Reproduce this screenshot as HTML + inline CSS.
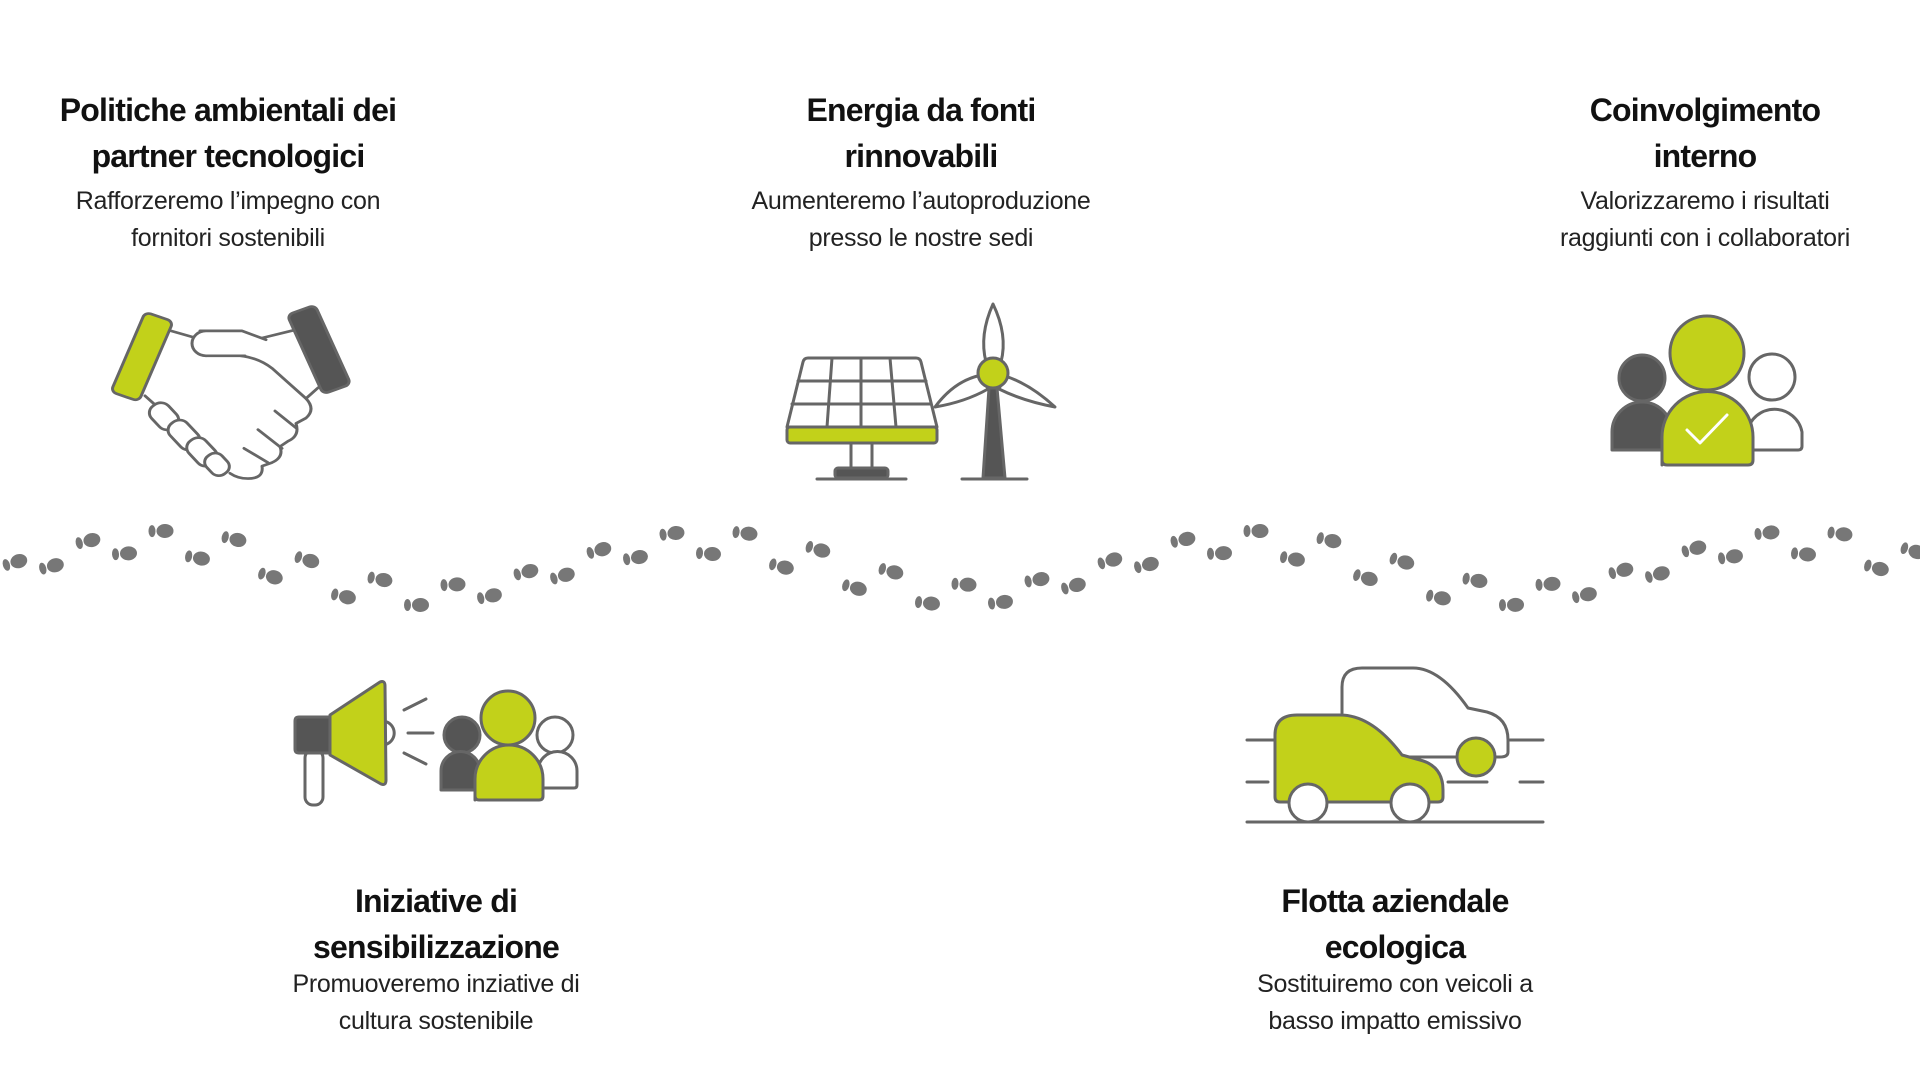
<!DOCTYPE html>
<html><head><meta charset="utf-8">
<style>
html,body{margin:0;padding:0;background:#fff;}
body{width:1920px;height:1080px;position:relative;overflow:hidden;font-family:"Liberation Sans",sans-serif;}
.t{position:absolute;text-align:center;color:#111;}
.t h{display:block;font-weight:bold;font-size:32px;line-height:46px;letter-spacing:-0.8px;}
.t p{margin:4px 0 0 0;font-size:25px;line-height:37px;color:#222;letter-spacing:-0.3px;}
svg{position:absolute;left:0;top:0;}
</style></head><body>

<div class="t" style="left:-22px;width:500px;top:87px;"><h>Politiche ambientali dei<br>partner tecnologici</h><p>Rafforzeremo l’impegno con<br>fornitori sostenibili</p></div>
<div class="t" style="left:671px;width:500px;top:87px;"><h>Energia da fonti<br>rinnovabili</h><p>Aumenteremo l’autoproduzione<br>presso le nostre sedi</p></div>
<div class="t" style="left:1455px;width:500px;top:87px;"><h>Coinvolgimento<br>interno</h><p>Valorizzaremo i risultati<br>raggiunti con i collaboratori</p></div>
<div class="t" style="left:186px;width:500px;top:878px;"><h>Iniziative di<br>sensibilizzazione</h><p style="margin-top:-4px">Promuoveremo inziative di<br>cultura sostenibile</p></div>
<div class="t" style="left:1145px;width:500px;top:878px;"><h>Flotta aziendale<br>ecologica</h><p style="margin-top:-4px">Sostituiremo con veicoli a<br>basso impatto emissivo</p></div>

<svg width="1920" height="1080" viewBox="0 0 1920 1080">
<g stroke="#666" stroke-width="3" stroke-linejoin="round" stroke-linecap="round" fill="#fff">
<!-- handshake -->
<g transform="translate(0 -2) scale(1 0.89)">
<line x1="171" y1="374" x2="196" y2="382"/>
<line x1="262" y1="382" x2="295" y2="373"/>
<path d="M200 374 H242 L266 384 M245 402 H206 A14 14 0 0 1 206 374" />
<path d="M206 402 H240 Q258 404 272 416 L306 450 Q316 462 306 472 L296 478 Q300 492 288 498 L280 504 Q284 516 272 522 L262 526 Q264 540 248 540 Q238 540 230 534"/>
<line x1="306" y1="450" x2="318" y2="438"/>
<line x1="275" y1="464" x2="296" y2="483"/>
<line x1="258" y1="485" x2="282" y2="506"/>
<line x1="244" y1="506" x2="268" y2="522"/>
<line x1="145" y1="447" x2="156" y2="458"/>
<rect x="-11" y="-16" width="22" height="32" rx="10" transform="translate(164 470) rotate(-40)"/>
<rect x="-11" y="-18" width="22" height="36" rx="10" transform="translate(184 491) rotate(-40)"/>
<rect x="-11" y="-17" width="22" height="34" rx="10" transform="translate(202 510) rotate(-40)"/>
<rect x="-10" y="-13" width="20" height="26" rx="9" transform="translate(217 524) rotate(-40)"/>
<rect x="-15" y="-48" width="30" height="96" rx="6" fill="#c2d11a" transform="translate(142 403) rotate(21)"/>
<rect x="-15" y="-48" width="30" height="96" rx="6" fill="#555" transform="translate(319 395) rotate(-22)"/>
</g>

<!-- solar -->
<path d="M808 358 H916 Q920 358 921 362 L937 427 H787 L803 362 Q804 358 808 358Z"/>
<path d="M798 381 H926 M792 404 H931 M832 358 L827 427 M861 358 V427 M890 358 L896 427"/>
<rect x="787" y="427" width="150" height="16" rx="3" fill="#c2d11a"/>
<path d="M851 443 V468 M872 443 V468"/>
<rect x="835" y="468" width="53" height="10" rx="3" fill="#555"/>
<path d="M817 479 H906 M962 479 H1027"/>
<path d="M993 304 Q1008 335 1001 362 L986 362 Q979 335 993 304Z"/>
<path d="M935 407 Q955 380 982 375 L988 389 Q965 402 935 407Z"/>
<path d="M1055 407 Q1030 384 1005 376 L999 389 Q1023 401 1055 407Z"/>
<path d="M989 388 L997 388 L1005 478 L983 478Z" fill="#555"/>
<circle cx="993" cy="373" r="15" fill="#c2d11a"/>

<!-- people right -->
<circle cx="1642" cy="378" r="23" fill="#555"/>
<path d="M1612 450 V432 A30 30 0 0 1 1672 432 V450Z" fill="#555"/>
<circle cx="1772" cy="377" r="23"/>
<path d="M1747 450 V432 A28 28 0 0 1 1802 432 V446 Q1802 450 1798 450Z"/>
<circle cx="1707" cy="353" r="37" fill="#c2d11a"/>
<path d="M1662 465 V437 A45.5 45.5 0 0 1 1753 437 V460 Q1753 465 1748 465 H1667 Q1662 465 1662 460Z" fill="#c2d11a"/>
<path d="M1687 430 L1700 443 L1727 415" stroke="#fff" fill="none"/>

<!-- megaphone -->
<path d="M387 722 A12 12 0 0 1 387 744"/>
<rect x="305" y="750" width="18" height="55" rx="8"/>
<path d="M299 717 H330 V753 H299 Q295 753 295 749 V721 Q295 717 299 717Z" fill="#555"/>
<path d="M330 715 L380 682 Q385 680 385 686 L386 780 Q386 786 381 784 L330 755Z" fill="#c2d11a"/>
<path d="M404 710 L426 699 M408 733 H433 M404 753 L426 764"/>
<circle cx="462" cy="735" r="18" fill="#555"/>
<path d="M441 790 V771 A19.5 19.5 0 0 1 480 771 V790Z" fill="#555"/>
<circle cx="555" cy="735" r="18"/>
<path d="M538 788 V771 A19.5 19.5 0 0 1 577 771 V785 Q577 788 574 788Z"/>
<circle cx="508" cy="718" r="27" fill="#c2d11a"/>
<path d="M475 800 V779 A34 34 0 0 1 543 779 V796 Q543 800 539 800 H479 Q475 800 475 796Z" fill="#c2d11a"/>

<!-- cars -->
<path d="M1247 740 H1275 M1510 740 H1543 M1247 782 H1268 M1448 782 H1487 M1520 782 H1543 M1247 822 H1543"/>
<path d="M1342 713 V687 Q1342 668 1362 668 H1413 Q1440 668 1468 708 L1487 712 Q1508 718 1508 740 V752 Q1508 757 1500 757 H1405"/>
<circle cx="1476" cy="757" r="19" fill="#c2d11a"/>
<path d="M1275 797 V735 Q1275 715 1297 715 H1340 Q1372 715 1402 755 L1420 760 Q1443 766 1443 790 V797 Q1443 802 1438 802 H1280 Q1275 802 1275 797Z" fill="#c2d11a"/>
<circle cx="1308" cy="803" r="19"/>
<circle cx="1410" cy="803" r="19"/>
</g>
<g id="fp" fill="#777"></g>
</svg>
<script>
(function(){
var g=document.getElementById('fp'),s='',P=545,k2=2*Math.PI/P;
function yt(x){return 558-27*Math.cos(k2*(x-710));}
function yb(x){return 579+26*Math.cos(k2*(x-416));}
function dt(x){return 27*k2*Math.sin(k2*(x-710));}
function db(x){return -26*k2*Math.sin(k2*(x-416));}
for(var k=-2;k<56;k++){
 var x=15+36.5*k, top=(k%2===0), y=top?yt(x):yb(x), d=top?dt(x):db(x);
 var a=Math.atan(d)*180/Math.PI;
 s+='<g transform="translate('+x.toFixed(1)+' '+y.toFixed(1)+') rotate('+a.toFixed(1)+')"><ellipse cx="-9" cy="0" rx="3.5" ry="6"/><ellipse cx="4" cy="0" rx="8.5" ry="7"/></g>';
}
g.innerHTML=s;
})();
</script>
</body></html>
